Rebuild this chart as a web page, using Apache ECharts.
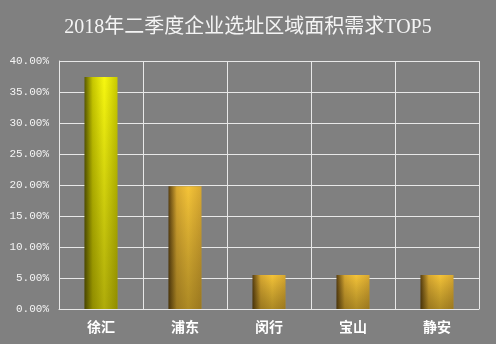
<!DOCTYPE html>
<html><head><meta charset="utf-8">
<script src="https://cdn.jsdelivr.net/npm/echarts@6/dist/echarts.min.js"></script>
<style>html,body{margin:0;padding:0;background:#808080;}#c{width:496px;height:344px;}</style>
</head><body><div id="c"></div>
<script>
const titleText = '2018年二季度企业选址区域面积需求TOP5';
const categories = ['徐汇', '浦东', '闵行', '宝山', '静安'];
const values = [37.4, 19.8, 5.5, 5.5, 5.5];
const yTicks = [0, 5, 10, 15, 20, 25, 30, 35, 40];

function hGrad(dark, mid, bright) {
  return new echarts.graphic.LinearGradient(0, 0, 1, 0, [
    {offset: 0, color: dark},
    {offset: 0.25, color: mid},
    {offset: 0.6, color: bright},
    {offset: 1, color: mid}
  ]);
}
const barColors = [
  hGrad('#5a5a00', '#c8c800', '#f8f810'),
  hGrad('#5a4010', '#d8a830', '#f5c438'),
  hGrad('#5a4010', '#d8a830', '#f5c438'),
  hGrad('#5a4010', '#d8a830', '#f5c438'),
  hGrad('#5a4010', '#d8a830', '#f5c438')
];

const chart = echarts.init(document.getElementById('c'), null, {renderer: 'canvas'});
chart.setOption({
  backgroundColor: '#808080',
  animation: false,
  title: {
    text: titleText, left: 'center', top: 13,
    textStyle: {color: '#f4f4f4', fontSize: 20, fontWeight: 'normal', fontFamily: 'Liberation Serif, Noto Sans CJK SC'}
  },
  grid: {left: 59, right: 17, top: 61, bottom: 35},
  xAxis: {
    type: 'category', data: categories,
    axisLine: {lineStyle: {color: '#e8e8e8', width: 1}},
    axisTick: {show: false},
    splitLine: {show: true, lineStyle: {color: '#e8e8e8', width: 1}},
    axisLabel: {color: '#ffffff', fontSize: 14, fontWeight: 'bold', margin: 11, fontFamily: 'Noto Sans CJK SC'}
  },
  yAxis: {
    type: 'value', min: yTicks[0], max: yTicks[yTicks.length - 1], interval: 5,
    axisLine: {show: true, lineStyle: {color: '#e8e8e8', width: 1}},
    axisTick: {show: false},
    splitLine: {lineStyle: {color: '#e8e8e8', width: 1}},
    axisLabel: {color: '#f4f4f4', fontSize: 11, margin: 10, fontFamily: 'Liberation Mono',
      formatter: v => v.toFixed(2) + '%'}
  },
  series: [
    {
      type: 'bar', barWidth: 33,
      data: values.map((v, i) => ({value: v, itemStyle: {color: barColors[i]}}))
    },
    {
      type: 'bar', barWidth: 33, barGap: '-100%', silent: true,
      data: values,
      itemStyle: {color: new echarts.graphic.LinearGradient(0, 0, 0, 1, [
        {offset: 0, color: 'rgba(0,0,0,0)'},
        {offset: 1, color: 'rgba(40,30,0,0.35)'}
      ])}
    }
  ]
});
</script></body></html>
